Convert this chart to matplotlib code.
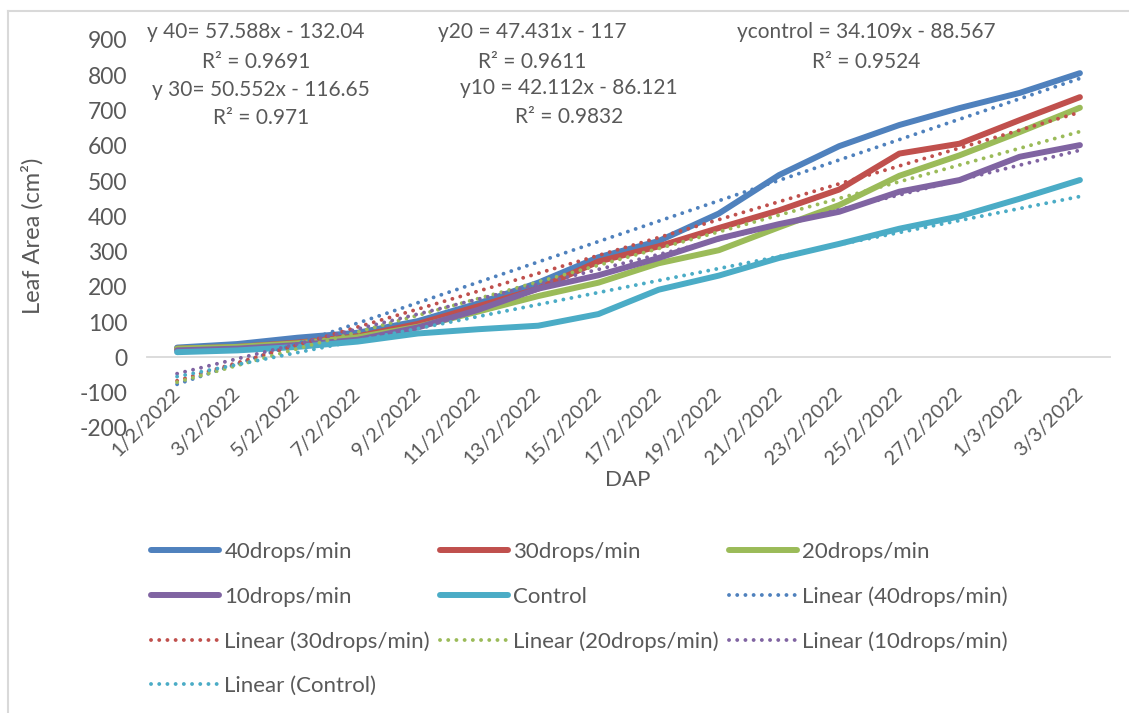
import numpy as np
import matplotlib
matplotlib.use("Agg")
import matplotlib.pyplot as plt
from matplotlib.lines import Line2D

plt.rcParams['font.family'] = ['Lato', 'DejaVu Sans']
plt.rcParams['axes.unicode_minus'] = False

dates = ["1/2/2022", "3/2/2022", "5/2/2022", "7/2/2022", "9/2/2022", "11/2/2022",
         "13/2/2022", "15/2/2022", "17/2/2022", "19/2/2022", "21/2/2022", "23/2/2022",
         "25/2/2022", "27/2/2022", "1/3/2022", "3/3/2022"]

drops40 = [28, 38, 56, 70, 103, 153, 212, 284, 330, 408, 517, 599, 659, 707, 750, 806]
drops30 = [25, 30, 42, 60, 95, 145, 195, 272, 315, 367, 417, 476, 578, 606, 673, 738]
drops20 = [25, 30, 40, 57, 87, 130, 174, 212, 267, 304, 369, 432, 515, 573, 639, 708]
drops10 = [20, 25, 35, 50, 85, 135, 195, 233, 282, 337, 378, 413, 470, 503, 569, 602]
control = [15, 20, 30, 45, 68, 80, 90, 123, 192, 232, 282, 322, 365, 400, 450, 503]

names = ["40drops/min", "30drops/min", "20drops/min", "10drops/min", "Control"]
series = [drops40, drops30, drops20, drops10, control]
colors = ["#4F81BD", "#C0504D", "#9BBB59", "#8064A2", "#4BACC6"]

eq_texts = [
    ("y 40= 57.588x - 132.04", 256, 32),
    ("R² = 0.9691", 256, 62),
    ("y 30= 50.552x - 116.65", 261, 90),
    ("R² = 0.971", 261, 118),
    ("y20 = 47.431x - 117", 532, 32),
    ("R² = 0.9611", 532, 62),
    ("y10 = 42.112x - 86.121", 569, 88),
    ("R² = 0.9832", 569, 117),
    ("ycontrol = 34.109x - 88.567", 866, 32),
    ("R² = 0.9524", 866, 62),
]

W, H = 1129, 713
fig = plt.figure(figsize=(W / 100, H / 100), dpi=100)
ax = fig.add_axes([147 / W, 1 - 428 / H, (1110 - 147) / W, (428 - 40) / H])

x = np.arange(len(dates))
xn = x + 1
main_handles = []
trend_handles = []
for name, s, c in zip(names, series, colors):
    h, = ax.plot(x, s, color=c, lw=4.3, solid_capstyle='round', solid_joinstyle='round',
                 label=name, zorder=3)
    main_handles.append(h)
for name, s, c in zip(names, series, colors):
    m, b = np.polyfit(xn, np.array(s, dtype=float), 1)
    t, = ax.plot(x, m * xn + b, color=c, lw=2.8, linestyle=(0, (0.01, 2.1)),
                 dash_capstyle='round', label=f"Linear ({name})", zorder=4)
    trend_handles.append(t)

ax.set_xlim(-0.5, len(dates) - 0.5)
ax.set_ylim(-200, 900)
ax.set_yticks(np.arange(-200, 901, 100))
ax.set_xticks(x)
ax.set_xticklabels(dates)
for sp in ['top', 'right', 'left']:
    ax.spines[sp].set_visible(False)
ax.spines['bottom'].set_position(('data', 0))
ax.spines['bottom'].set_color('#D9D9D9')
ax.spines['bottom'].set_linewidth(1.3)
ax.tick_params(axis='x', length=0, pad=24, labelsize=14.5, labelcolor='#595959')
ax.tick_params(axis='y', length=0, pad=14, labelsize=16.5, labelcolor='#595959')
for lbl in ax.get_xticklabels():
    lbl.set_rotation(45)
    lbl.set_ha('right')
    lbl.set_va('center')
    lbl.set_rotation_mode('anchor')
ax.set_xlabel("DAP", fontsize=16, color='#595959')
ax.xaxis.set_label_coords((628 - 147) / (1110 - 147), (428 - 480) / (428 - 40))
ax.xaxis.label.set_va('center')
ax.set_ylabel("Leaf Area (cm²)", fontsize=17, color='#595959')
ax.yaxis.set_label_coords((32 - 147) / (1110 - 147), (428 - 236) / (428 - 40))
ax.yaxis.label.set_va('center')

for txt, px, py in eq_texts:
    fig.text(px / W, 1 - py / H, txt, ha='center', va='center', fontsize=15, color='#595959')

all_h = main_handles + trend_handles
order = [0, 3, 6, 9, 1, 4, 7, 2, 5, 8]
hs = [all_h[i] for i in order]
leg = fig.legend(hs, [h.get_label() for h in hs], ncol=3, loc='upper left',
                 bbox_to_anchor=(140 / W, 1 - 531 / H), frameon=False, fontsize=16,
                 handlelength=3.05, handletextpad=0.25, columnspacing=0.45, labelspacing=1.1,
                 borderpad=0)
for t in leg.get_texts():
    t.set_color('#595959')

fig.add_artist(Line2D([8 / W, 8 / W], [0, 1 - 11 / H], color='#D9D9D9', lw=1.5,
                      transform=fig.transFigure))
fig.add_artist(Line2D([8 / W, 1], [1 - 11 / H, 1 - 11 / H], color='#D9D9D9', lw=1.5,
                      transform=fig.transFigure))

fig.savefig("out.png", dpi=100)
